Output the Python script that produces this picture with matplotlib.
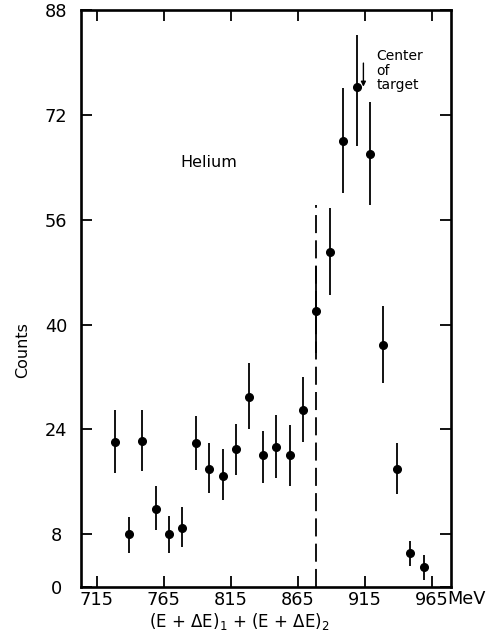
import matplotlib
matplotlib.use("Agg")
import matplotlib.pyplot as plt
import numpy as np

# ── Data ──────────────────────────────────────────────────────────────────────
energy = [729, 739, 749, 759, 769, 779, 789, 799, 809, 819, 829, 839,
          849, 859, 869, 879, 889, 899, 909, 919, 929, 939, 949, 959]
counts = [22.1, 8.0, 22.2, 11.9, 8.0, 9.0, 22.0, 18.0, 16.9, 21.0, 29.0, 20.1,
          21.3, 20.1, 26.9, 42.0, 51.1, 68.0, 76.2, 66.1, 36.9, 18.0, 5.1, 3.0]
upper = [26.9, 10.7, 27.0, 15.4, 10.8, 12.1, 26.1, 22.0, 21.0, 24.8, 34.2, 23.8,
         26.2, 24.7, 32.0, 48.9, 57.8, 76.1, 84.2, 73.9, 42.8, 22.0, 7.0, 4.8]
lower = [17.3, 5.2, 17.6, 8.7, 5.1, 6.0, 17.8, 14.3, 13.2, 17.1, 24.1, 15.9,
         16.6, 15.4, 22.1, 35.6, 44.5, 60.1, 67.3, 58.3, 31.1, 14.1, 3.2, 1.1]

x_ticks = [715, 765, 815, 865, 915, 965]
y_ticks = [0, 8, 24, 40, 56, 72, 88]

cut_energy = 879        # dashed vertical line
cut_top = 58.3
target_energy = 914     # "Center of target" arrow

# ── Figure ────────────────────────────────────────────────────────────────────
fig = plt.figure(figsize=(4.91, 6.33), dpi=100, facecolor="white")
ax = fig.add_axes([0.164, 0.0731, 0.7546, 0.9111])

c = np.array(counts)
yerr = [c - np.array(lower), np.array(upper) - c]
ax.errorbar(energy, counts, yerr=yerr, fmt="o", color="black",
            markersize=5.5, elinewidth=1.3, capsize=0, zorder=3)

ax.vlines(cut_energy, 0, cut_top, colors="black", linewidth=1.3,
          linestyles=(0, (10, 4)), zorder=2)

ax.annotate("", xy=(target_energy, 76.3), xytext=(target_energy, 79.9),
            arrowprops=dict(arrowstyle="-|>", lw=1.0, color="black",
                            mutation_scale=7, shrinkA=0, shrinkB=0))
ax.text(923.5, 82.0, "Center\nof\ntarget", fontsize=10, ha="left", va="top",
        linespacing=1.05)
ax.text(777.5, 64.7, "Helium", fontsize=11.5, ha="left", va="center")

# ── Axes ─────────────────────────────────────────────────────────────────────
ax.set_xlim(702.9, 979.4)
ax.set_ylim(0, 88)
ax.set_xticks(x_ticks)
ax.set_yticks(y_ticks)

ax.tick_params(axis="both", direction="in", length=8, width=1.3,
               top=True, right=True, labelsize=12.8)
ax.tick_params(axis="x", pad=3)
ax.tick_params(axis="y", pad=17.5)
for lab in ax.get_yticklabels():
    lab.set_horizontalalignment("center")

for sp in ax.spines.values():
    sp.set_linewidth(1.9)

fig.text(447 / 491, 1 - 599 / 633, "MeV", fontsize=12.8, ha="left", va="center")
fig.text(239 / 491, 1 - 622 / 633,
         r"(E + $\Delta$E)$_{\mathregular{1}}$ + (E + $\Delta$E)$_{\mathregular{2}}$",
         fontsize=12, ha="center", va="center")
fig.text(23 / 491, 1 - 350 / 633, "Counts", fontsize=11.5, rotation=90,
         ha="center", va="center")

fig.savefig("out.png", dpi=100)
plt.close(fig)
